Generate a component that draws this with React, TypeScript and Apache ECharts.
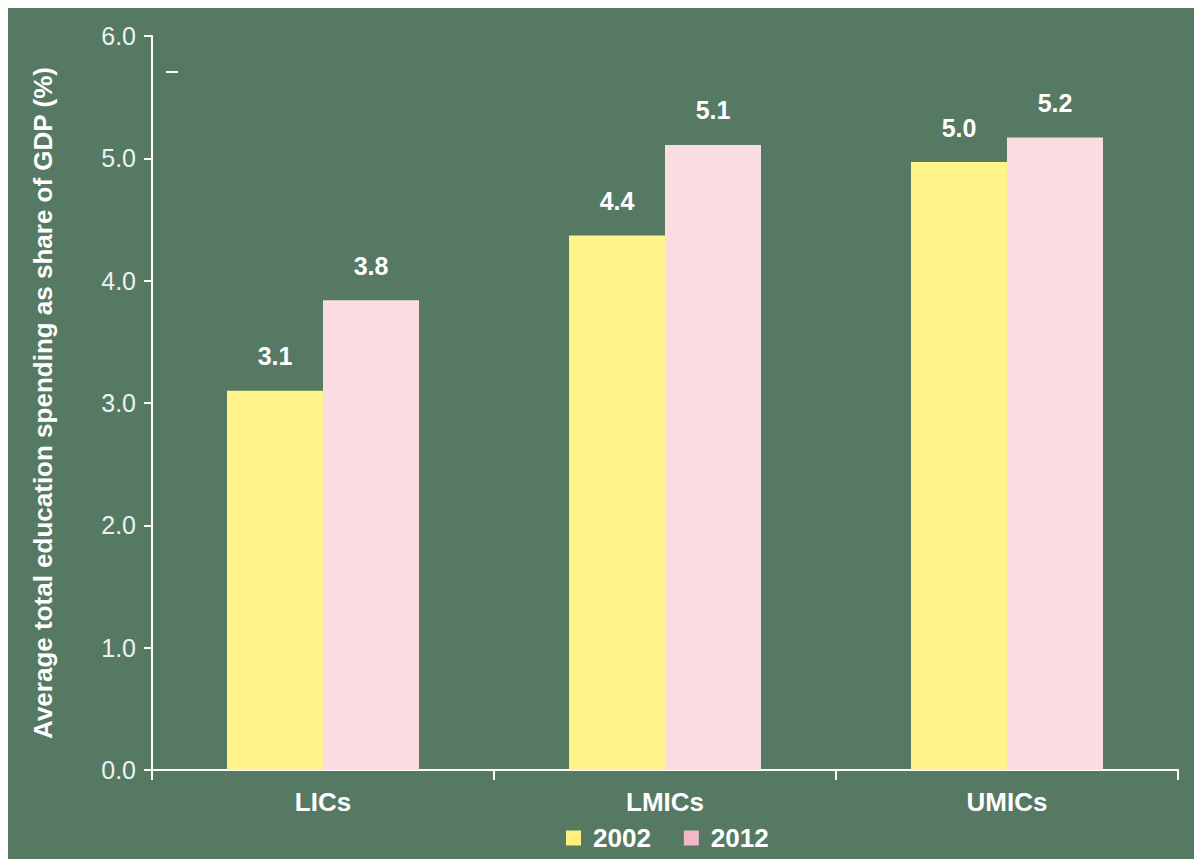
import React, { useEffect, useRef } from "react";
import * as echarts from "echarts";

const categories = ["LICs", "LMICs", "UMICs"];
const seriesNames = ["2002", "2012"];
const values2002 = [3.1, 4.37, 4.97];
const values2012 = [3.84, 5.11, 5.17];
const labels2002 = ["3.1", "4.4", "5.0"];
const labels2012 = ["3.8", "5.1", "5.2"];
const yTicks = [0, 1, 2, 3, 4, 5, 6];

const BG = "#567963";
const YELLOW = "#fff38a";
const PINK = "#f9dde2";
const FONT = "Liberation Sans, Arial, sans-serif";

export default function App() {
  const ref = useRef<HTMLDivElement>(null);
  useEffect(() => {
    if (!ref.current) return;
    const chart = echarts.init(ref.current, undefined, { renderer: "svg" });
    const mkLabel = (labels: string[]) => ({
      show: true,
      position: "top",
      distance: 22,
      color: "#ffffff",
      fontWeight: "bold",
      fontSize: 25,
      fontFamily: FONT,
      formatter: (p: any) => labels[p.dataIndex],
    });
    chart.setOption({
      animation: false,
      backgroundColor: BG,
      textStyle: { fontFamily: FONT },
      grid: { left: 144, right: 16, top: 28, bottom: 89, containLabel: false },
      legend: {
        data: [
          { name: seriesNames[0], itemStyle: { color: "#fff07f" } },
          { name: seriesNames[1], itemStyle: { color: "#f2b8c6" } },
        ],
        left: 553,
        top: 812,
        icon: "rect",
        itemWidth: 15,
        itemHeight: 15,
        itemGap: 33,
        textStyle: {
          color: "#ffffff",
          fontWeight: "bold",
          fontSize: 26,
          fontFamily: FONT,
          padding: [0, 0, 0, 7],
        },
      },
      xAxis: {
        type: "category",
        data: categories,
        axisLine: { lineStyle: { color: "#ffffff", width: 2 } },
        axisTick: { show: true, length: 10, lineStyle: { color: "#ffffff", width: 2 } },
        axisLabel: { color: "#ffffff", fontWeight: "bold", fontSize: 26, margin: 19, fontFamily: FONT },
      },
      yAxis: {
        type: "value",
        min: yTicks[0],
        max: yTicks[yTicks.length - 1],
        interval: 1,
        name: "Average total education spending as share of GDP (%)",
        nameLocation: "middle",
        nameGap: 96,
        nameTextStyle: { color: "#ffffff", fontWeight: "bold", fontSize: 26, fontFamily: FONT },
        axisLine: { show: true, lineStyle: { color: "#ffffff", width: 2 } },
        axisTick: { show: true, length: 8, lineStyle: { color: "#ffffff", width: 2 } },
        splitLine: { show: false },
        axisLabel: {
          color: "#eef2ef",
          fontSize: 25,
          margin: 16,
          fontFamily: FONT,
          formatter: (v: number) => v.toFixed(1),
        },
      },
      series: [
        {
          name: seriesNames[0],
          type: "bar",
          data: values2002,
          barWidth: 96,
          barGap: "0%",
          itemStyle: { color: YELLOW },
          label: mkLabel(labels2002),
        },
        {
          name: seriesNames[1],
          type: "bar",
          data: values2012,
          barWidth: 96,
          barGap: "0%",
          itemStyle: { color: PINK },
          label: mkLabel(labels2012),
        },
      ],
      graphic: [
        {
          type: "line",
          shape: { x1: 158, y1: 64, x2: 170, y2: 64 },
          style: { stroke: "#ffffff", lineWidth: 2 },
        },
      ],
    });
    return () => chart.dispose();
  }, []);
  return (
    <div
      ref={ref}
      style={{ position: "fixed", left: 8, top: 8, width: 1186, height: 851 }}
    />
  );
}
